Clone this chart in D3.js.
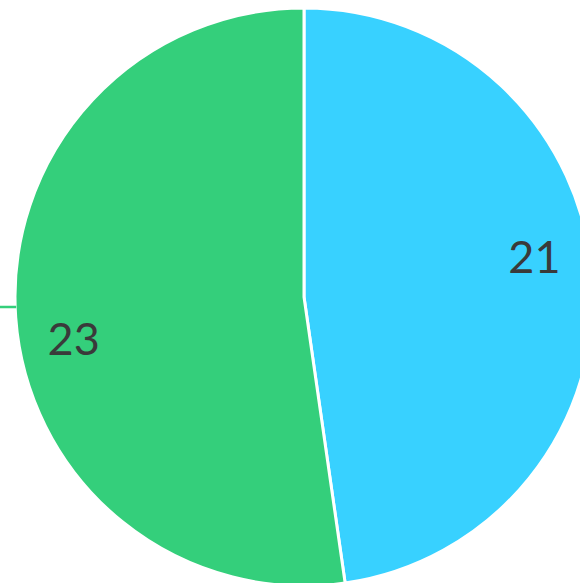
<!DOCTYPE html>
<html>
<head>
<meta charset="utf-8">
<script src="https://cdn.jsdelivr.net/npm/d3@7"></script>
<style>
  html, body { margin: 0; padding: 0; background: #fff; overflow: hidden; }
  svg { display: block; }
</style>
</head>
<body>
<svg id="chart" width="580" height="583"></svg>
<script>
// Slice data
const categories = ["A", "B"];
const values = [21, 23];
const colors = ["#38D1FF", "#34CF7B"];

const width = 580, height = 583;
const cx = 304, cy = 297, radius = 289;
const labelRadius = 234;
const labelShift = -0.105; // labels sit slightly counter-clockwise of the slice middle

const svg = d3.select("#chart");
const g = svg.append("g").attr("transform", `translate(${cx},${cy})`);

const pie = d3.pie().sort(null).value(d => d.value);
const arcs = pie(categories.map((c, i) => ({ name: c, value: values[i], color: colors[i] })));

const arc = d3.arc().innerRadius(0).outerRadius(radius);
const labelArc = d3.arc().innerRadius(labelRadius).outerRadius(labelRadius);

g.selectAll("path.slice")
  .data(arcs)
  .join("path")
  .attr("class", "slice")
  .attr("d", arc)
  .attr("fill", d => d.data.color)
  .attr("stroke", "#fff")
  .attr("stroke-width", 3)
  .attr("stroke-linejoin", "round");

// Leader stub on the left edge of the second slice
const stubY = 10;
g.append("line")
  .attr("x1", -cx)
  .attr("x2", -Math.sqrt(radius * radius - stubY * stubY) + 1)
  .attr("y1", stubY)
  .attr("y2", stubY)
  .attr("stroke", colors[1])
  .attr("stroke-width", 2.5);

g.selectAll("text.value")
  .data(arcs)
  .join("text")
  .attr("class", "value")
  .attr("transform", d => {
    const [x, y] = labelArc.centroid({
      startAngle: d.startAngle + labelShift,
      endAngle: d.endAngle + labelShift
    });
    return `translate(${x},${y})`;
  })
  .attr("text-anchor", "middle")
  .attr("dominant-baseline", "central")
  .attr("font-family", "Lato, 'Open Sans', sans-serif")
  .attr("font-weight", 400)
  .attr("font-size", 45)
  .attr("fill", "#3a3a3a")
  .text(d => d.data.value);
</script>
</body>
</html>
